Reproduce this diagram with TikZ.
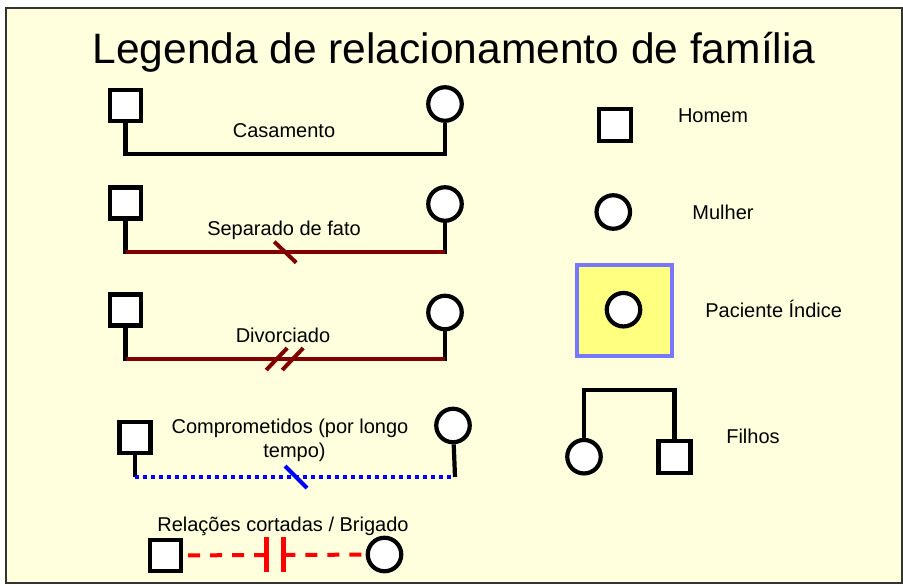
\documentclass[tikz,border=0pt]{standalone}
\usepackage{fontspec}
\setmainfont{Liberation Sans}
\usepackage{tikz}
\usetikzlibrary{calc,positioning}
\definecolor{fundo}{RGB}{255,255,221}
\definecolor{marrom}{RGB}{128,0,0}
\definecolor{pborda}{RGB}{120,120,255}
\definecolor{pfundo}{RGB}{255,255,128}
\tikzset{lig/.style={line width=4.2pt}}
\tikzset{sep/.style={line width=4pt, marrom}}
\tikzstyle{homem}=[draw, line width=4.2pt, fill=white, minimum size=31pt, inner sep=0pt]
\tikzstyle{mulher}=[draw, circle, line width=4.2pt, fill=white, minimum size=33.5pt, inner sep=0pt]
\tikzstyle{rot}=[font=\fontsize{20}{24}\selectfont, anchor=base, inner sep=0pt]
\tikzstyle{comp}=[line width=3.5pt, blue, dash pattern=on 3.5pt off 4.5pt]
\tikzstyle{cort}=[line width=4pt, red, dash pattern=on 12pt off 10pt]

\begin{document}
\begin{tikzpicture}[x=1pt,y=-1pt]
    \useasboundingbox (0,0) rectangle (903,586);
    \fill[white] (0,0) rectangle (903,586);
    \draw[fill=fundo, draw=black!80, line width=2pt] (6,8.3) rectangle (901.5,583);
    \node[font=\fontsize{42.5}{50}\selectfont, anchor=base, inner sep=0pt] (titulo) at (454,64) {Legenda de relacionamento de família};
    % casamento
    \node [homem] (h1) at (125.5,105.5) {};
    \node [mulher] (m1) at (445,104) {};
    \coordinate (c1) at (125.5,154);
    \draw[lig] (h1) -- (c1) -| (m1);
    \node [rot] (tcas) at (284,137) {Casamento};
    % separado de fato
    \node [homem] (h2) at (125.5,203) {};
    \node [mulher] (m2) at (445,204) {};
    \coordinate (c2) at (125.5,251.7);
    \coordinate (d2) at (445,251.7);
    \draw[lig, line cap=rect] (h2) -- (c2);
    \draw[lig, line cap=rect] (m2) -- (d2);
    \draw[sep] (c2) -- (d2);
    \draw[sep] ($(c2)!0.5!(d2)+(-11,-10)$) -- ++(22,21);
    \node [rot] (tsep) at (284,235) {Separado de fato};
    % divorciado
    \node [homem] (h3) at (125.5,310) {};
    \node [mulher] (m3) at (445,312.5) {};
    \coordinate (c3) at (125.5,359);
    \coordinate (d3) at (445,359);
    \draw[lig, line cap=rect] (h3) -- (c3);
    \draw[lig, line cap=rect] (m3) -- (d3);
    \draw[sep] (c3) -- (d3);
    \draw[sep] ($(c3)!0.5!(d3)+(-19,11)$) -- ++(21,-22);
    \draw[sep] ($(c3)!0.5!(d3)+(-3,11)$) -- ++(21,-22);
    \node [rot] (tdiv) at (283,342) {Divorciado};
    % comprometidos
    \node [homem] (h4) at (135,437.5) {};
    \node [mulher] (m4) at (453,425.5) {};
    \coordinate (c4) at (135,477);
    \coordinate (d4) at (455,477);
    \draw[lig] (h4) -- (c4);
    \draw[lig] (m4) -- (d4);
    \draw[comp] (c4) -- (d4);
    \draw[line width=4pt, blue] ($(c4)!0.5!(d4)+(-10,-11)$) -- ++(22,22);
    \node [rot] (tcomp) at (290,433) {Comprometidos (por longo};
    \node [rot] (ttempo) at (294.5,457) {tempo)};
    % relacoes cortadas
    \node [homem] (h5) at (165.5,555.5) {};
    \node [mulher] (m5) at (384.5,554.5) {};
    \coordinate (k1) at (266.7,555);
    \coordinate (k2) at (283.3,555);
    \draw[cort, dash phase=17pt] (h5) -- (k1);
    \draw[cort] (k2) -- (m5);
    \draw[line width=4.5pt, red] ($(k1)+(0,-18)$) -- ++(0,35);
    \draw[line width=4.5pt, red] ($(k2)+(0,-18)$) -- ++(0,35);
    \node [rot] (tcort) at (283,531) {Relações cortadas / Brigado};
    % simbolos
    \node [homem, minimum size=32pt] (hh) at (614.7,125) {};
    \node [rot] (thom) at (713,122) {Homem};
    \node [mulher] (mm) at (613.3,212) {};
    \node [rot] (tmul) at (723,219) {Mulher};
    \node [draw=pborda, fill=pfundo, line width=4pt, minimum width=95.5pt, minimum height=91.5pt, inner sep=0pt] (pac) at (624.7,310.5) {};
    \node [mulher] (pm) at (623.5,309.7) {};
    \node [rot] (tpac) at (773.7,317) {Paciente Índice};
    % filhos
    \node [mulher] (fm) at (584,456.7) {};
    \node [homem, minimum size=32pt] (fh) at (674.5,457) {};
    \coordinate (ft) at (629,390);
    \draw[lig] (fm) |- (ft) -| (fh);
    \node [rot] (tfil) at (753,443) {Filhos};
\end{tikzpicture}
\end{document}
